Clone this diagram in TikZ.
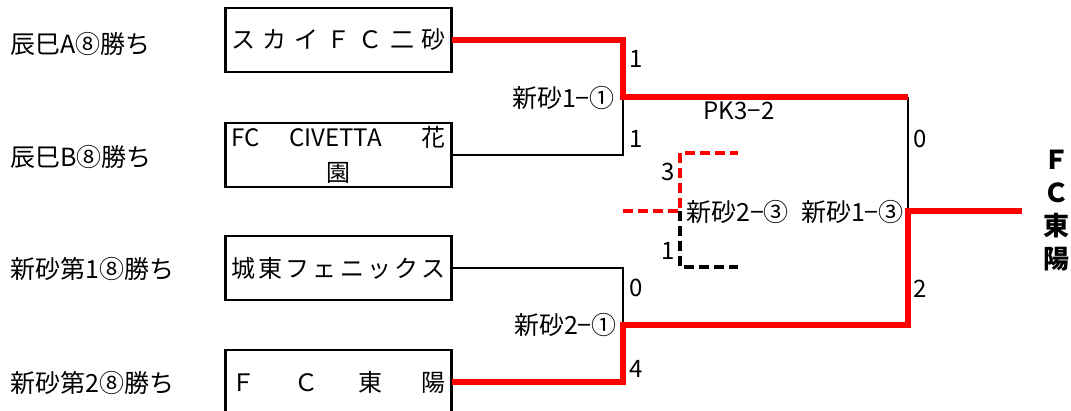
\documentclass[tikz,border=0pt]{standalone}
\usepackage{fontspec}
\setmainfont{Noto Sans CJK JP}

\begin{document}
\begin{tikzpicture}[x=1pt,y=-1pt,
  team/.style={draw, line width=2.8pt, minimum width=226pt, minimum height=64pt, inner sep=0pt, outer sep=0pt, align=center, font=\fontsize{24pt}{35pt}\selectfont},
  seed/.style={anchor=west, inner sep=0pt, font=\fontsize{25pt}{28pt}\selectfont},
  score/.style={inner sep=0pt, font=\fontsize{24pt}{28pt}\selectfont},
  game/.style={anchor=east, inner sep=0pt, font=\fontsize{25pt}{28pt}\selectfont},
  win/.style={draw=red, line width=6.5pt},
  lose/.style={draw=black, line width=2.8pt},
  pkwin/.style={draw=red, line width=4pt, dash pattern=on 10pt off 5pt},
  pklose/.style={draw=black, line width=4pt, dash pattern=on 10pt off 5pt}]
\useasboundingbox (0,0) rectangle (1071,411);

\node[seed] (a8) at (10,44) {辰巳A⑧勝ち};
\node[seed] (b8) at (10,157) {辰巳B⑧勝ち};
\node[seed] (c8) at (10,269) {新砂第1⑧勝ち};
\node[seed] (d8) at (10,383) {新砂第2⑧勝ち};

\node[team] (sky) at (338.5,40) {\hbox to 215pt{ス\hfill カ\hfill イ\hfill Ｆ\hfill Ｃ\hfill 二\hfill 砂}};
\node[team] (civetta) at (338.5,155) {\hbox to 215pt{FC\hspace{30pt}CIVETTA\hfill 花}\\園};
\node[team] (joto) at (338.5,268) {\hbox to 215pt{城\hfill 東\hfill フ\hfill ェ\hfill ニ\hfill ッ\hfill ク\hfill ス}};
\node[team] (toyo) at (338.5,382) {\hbox to 215pt{Ｆ\hfill Ｃ\hfill 東\hfill 陽}};

\coordinate (q1) at (623,97);
\coordinate (q2) at (623,325);
\coordinate (top) at (908,97);
\coordinate (bot) at (908,325);
\coordinate (fin) at (908,211);
\coordinate (champ) at (1022,211);

\draw[lose] (civetta.east) -| (q1);
\draw[lose] (joto.east) -| (q2);
\draw[lose] (top) -- (fin);
\draw[win] (sky.east) -| (q1) -- (top);
\draw[win] (toyo.east) -| (q2) -- (bot) -- (fin) -- (champ);

\coordinate (pkl) at (623,211);
\coordinate (pkm) at (680,211);
\coordinate (pkt) at (680,153);
\coordinate (pktr) at (738,153);
\coordinate (pkb) at (680,267);
\coordinate (pkbr) at (738,267);
\draw[pkwin] (pkl) -- (pkm) -- (pkt) -- (pktr);
\draw[pklose] (pkm) -- (pkb) -- (pkbr);

\node[score] (s1) at (636,59) {1};
\node[score] (s2) at (636,139) {1};
\node[score] (s3) at (636,288) {0};
\node[score] (s4) at (636,369) {4};
\node[score] (s5) at (920,139) {0};
\node[score] (s6) at (920,289) {2};
\node[score] (s7) at (668,172) {3};
\node[score] (s8) at (668,251) {1};
\node[score] (pk) at (739,111) {PK3−2};

\node[game] (g1) at (615,98) {新砂1−①};
\node[game] (g2) at (617,325) {新砂2−①};
\node[game, anchor=west] (g3) at (686,212) {新砂2−③};
\node[game] (g4) at (904,212) {新砂1−③};

\node[align=center, inner sep=0pt, font=\fontsize{26pt}{33pt}\selectfont\bfseries] (winner) at (1056,211) {Ｆ\\Ｃ\\東\\陽};
\end{tikzpicture}
\end{document}
